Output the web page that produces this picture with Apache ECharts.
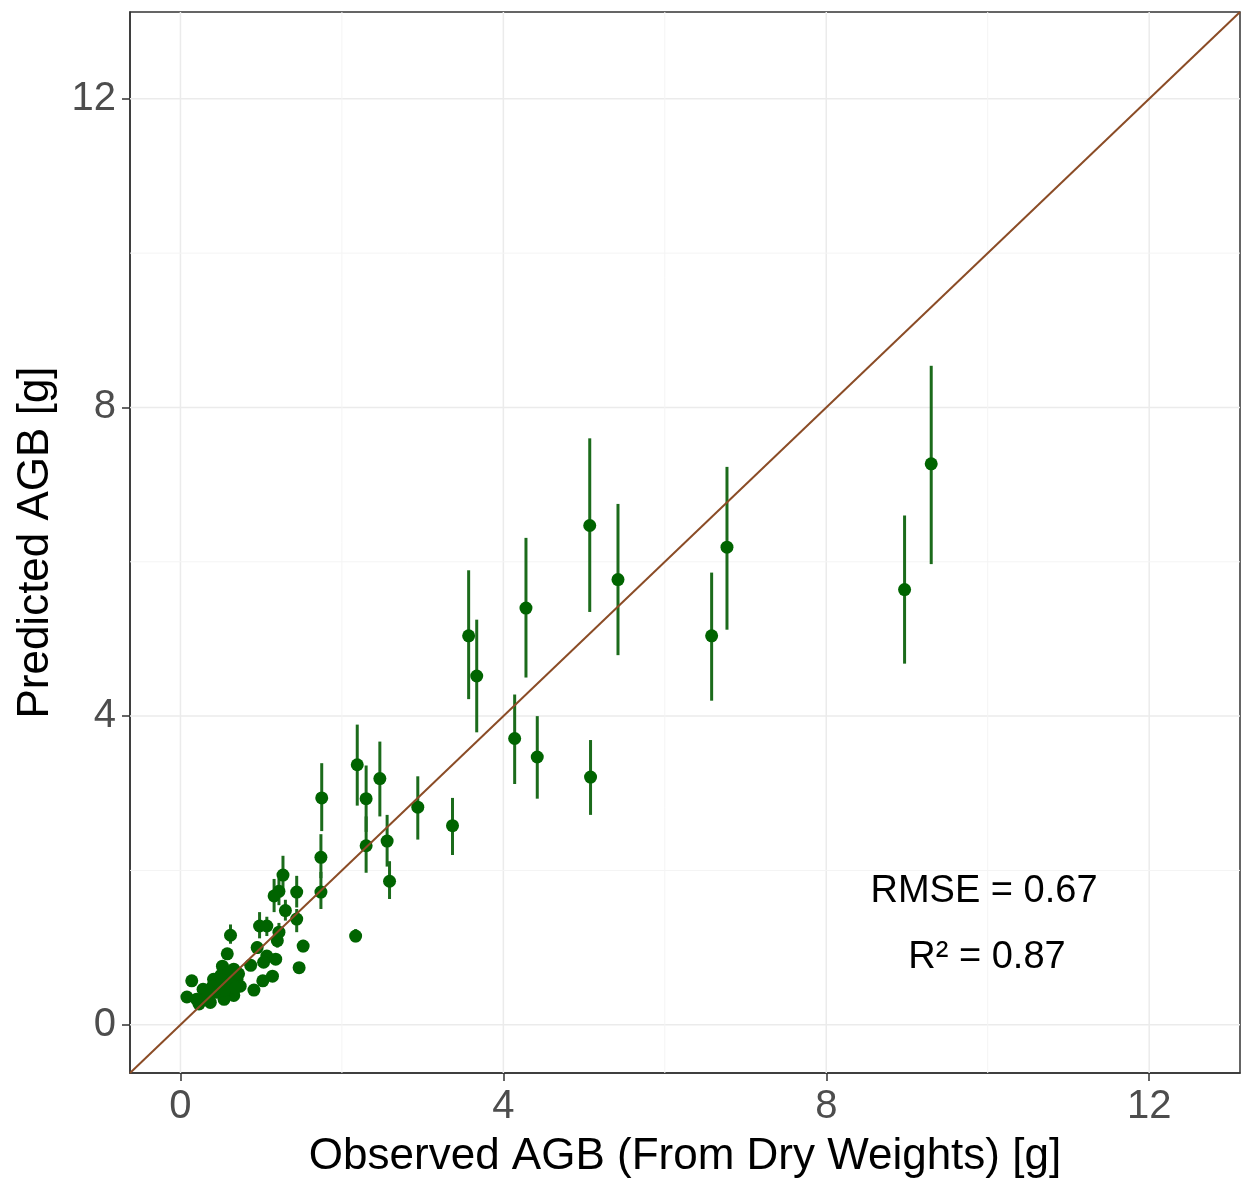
<!DOCTYPE html>
<html>
<head>
<meta charset="utf-8">
<script src="https://cdn.jsdelivr.net/npm/echarts@6/dist/echarts.min.js"></script>
<style>
  html, body { margin: 0; padding: 0; background: #fff; }
  #chart { width: 1244px; height: 1189px; }
</style>
</head>
<body>
<div id="chart"></div>
<script>
// observed (dry weight) vs predicted AGB, with predicted error bars
const observed = [9.30, 8.97, 6.77, 6.58, 5.42, 5.07, 5.08, 4.42, 4.28, 4.14, 3.67, 3.57, 3.37, 2.94,
  2.59, 2.56, 2.47, 2.30, 2.30, 2.19, 2.17, 1.75, 1.74, 1.74, 1.27, 1.44, 1.22, 1.16, 1.30, 1.44,
  0.98, 1.07, 1.22, 1.20, 0.62, 1.52, 1.47, 0.95, 1.07, 1.18, 1.03, 0.87, 1.14, 1.02, 0.91, 0.58,
  0.52, 0.66, 0.14, 0.08, 0.28, 0.41, 0.50, 0.70, 0.74, 0.66, 0.54, 0.37, 0.23, 0.45, 0.58, 0.33,
  0.62, 0.48, 0.55, 0.68, 0.30, 0.20, 0.40, 0.60, 0.72, 0.35, 0.52];
const predicted = [7.27, 5.64, 6.19, 5.04, 5.77, 6.47, 3.21, 3.47, 5.40, 3.71, 4.52, 5.04, 2.58, 2.82,
  1.86, 2.38, 3.19, 2.93, 2.32, 3.37, 1.15, 2.94, 2.17, 1.72, 1.94, 1.72, 1.73, 1.67, 1.48, 1.37,
  1.28, 1.28, 1.20, 1.09, 1.16, 1.02, 0.74, 1.00, 0.89, 0.85, 0.81, 0.77, 0.63, 0.57, 0.45, 0.92,
  0.76, 0.72, 0.57, 0.36, 0.46, 0.59, 0.64, 0.59, 0.50, 0.38, 0.33, 0.29, 0.27, 0.42, 0.50, 0.38,
  0.55, 0.52, 0.45, 0.48, 0.33, 0.33, 0.50, 0.68, 0.66, 0.44, 0.58];
const lower = [5.97, 4.68, 5.12, 4.20, 4.79, 5.35, 2.72, 2.93, 4.50, 3.12, 3.79, 4.22, 2.20, 2.40,
  1.63, 2.05, 2.70, 2.50, 1.97, 2.84, 1.07, 2.51, 1.90, 1.50, 1.75, 1.52, 1.55, 1.46, 1.35, 1.20,
  1.12, 1.15, 1.08, 1.00, 1.05, 0.94, 0.68, 0.92, 0.82, 0.79, 0.75, 0.71, 0.58, 0.52, 0.41, 0.85,
  0.70, 0.66, 0.52, 0.32, 0.42, 0.54, 0.58, 0.54, 0.45, 0.34, 0.29, 0.26, 0.24, 0.38, 0.45, 0.34,
  0.50, 0.47, 0.40, 0.43, 0.30, 0.30, 0.45, 0.62, 0.60, 0.40, 0.53];
const upper = [8.54, 6.60, 7.23, 5.86, 6.75, 7.60, 3.69, 4.00, 6.31, 4.28, 5.25, 5.89, 2.94, 3.22,
  2.12, 2.72, 3.67, 3.36, 2.70, 3.89, 1.24, 3.39, 2.47, 1.98, 2.19, 1.93, 1.90, 1.89, 1.62, 1.50,
  1.46, 1.40, 1.32, 1.20, 1.30, 1.10, 0.80, 1.08, 0.96, 0.91, 0.87, 0.83, 0.68, 0.62, 0.49, 0.99,
  0.82, 0.78, 0.62, 0.40, 0.50, 0.64, 0.70, 0.64, 0.55, 0.42, 0.37, 0.32, 0.30, 0.46, 0.55, 0.42,
  0.60, 0.57, 0.50, 0.53, 0.36, 0.36, 0.55, 0.74, 0.72, 0.48, 0.63];

const axisMin = -0.625;
const axisMax = 13.125;
const majorTicks = [0, 4, 8, 12];
const minorTicks = [2, 6, 10];
const rmseText = 'RMSE = 0.67';
const r2Text = 'R\u00b2 = 0.87';

const points = observed.map((x, i) => [x, predicted[i]]);
const bars = observed.map((x, i) => [x, lower[i], upper[i]]);
const oneToOne = [[axisMin, axisMin], [axisMax, axisMax]];

// grid line values: [value, isMajor]
const gridVals = majorTicks.map(v => [v, 1]).concat(minorTicks.map(v => [v, 0]));

const font = '"Liberation Sans", Arial, sans-serif';

let chart = echarts.init(document.getElementById('chart'));
chart.setOption({
  animation: false,
  backgroundColor: '#fff',
  textStyle: { fontFamily: font },
  grid: {
    left: 130, top: 12, right: 4, bottom: 116,
    show: true, borderColor: '#333', borderWidth: 1.5, backgroundColor: '#fff'
  },
  xAxis: {
    type: 'value', min: axisMin, max: axisMax,
    name: 'Observed AGB (From Dry Weights) [g]',
    nameLocation: 'middle', nameGap: 62,
    nameTextStyle: { fontSize: 44, color: '#000', fontFamily: font },
    axisLine: { show: true, onZero: false, lineStyle: { color: '#333', width: 1.5 } },
    axisTick: { show: true, customValues: majorTicks, length: 8, lineStyle: { color: '#333', width: 1.5 } },
    axisLabel: { customValues: majorTicks, fontSize: 40, color: '#4d4d4d', margin: 14, fontFamily: font },
    splitLine: { show: false }
  },
  yAxis: {
    type: 'value', min: axisMin, max: axisMax,
    name: 'Predicted AGB [g]',
    nameLocation: 'middle', nameGap: 72,
    nameTextStyle: { fontSize: 44, color: '#000', fontFamily: font },
    axisLine: { show: true, onZero: false, lineStyle: { color: '#333', width: 1.5 } },
    axisTick: { show: true, customValues: majorTicks, length: 8, lineStyle: { color: '#333', width: 1.5 } },
    axisLabel: { customValues: majorTicks, fontSize: 40, color: '#4d4d4d', margin: 14, fontFamily: font },
    splitLine: { show: false }
  },
  series: [
    {
      // panel grid lines (major + minor), drawn under everything
      type: 'custom', z: 1, silent: true, data: gridVals,
      renderItem: function (params, api) {
        const v = api.value(0);
        const major = api.value(1) === 1;
        const lo = api.coord([axisMin, axisMin]);
        const hi = api.coord([axisMax, axisMax]);
        const p = api.coord([v, v]);
        const style = { stroke: major ? '#ebebeb' : '#f4f4f4', lineWidth: major ? 1.5 : 1 };
        return {
          type: 'group',
          children: [
            { type: 'line', shape: { x1: p[0], y1: lo[1], x2: p[0], y2: hi[1] }, style: style },
            { type: 'line', shape: { x1: lo[0], y1: p[1], x2: hi[0], y2: p[1] }, style: style }
          ]
        };
      }
    },
    {
      type: 'custom', z: 2, data: bars,
      renderItem: function (params, api) {
        const p1 = api.coord([api.value(0), api.value(1)]);
        const p2 = api.coord([api.value(0), api.value(2)]);
        return {
          type: 'line',
          shape: { x1: p1[0], y1: p1[1], x2: p2[0], y2: p2[1] },
          style: { stroke: '#1b6b1b', lineWidth: 3 }
        };
      }
    },
    {
      type: 'scatter', z: 3, data: points,
      symbol: 'circle', symbolSize: 13,
      itemStyle: { color: '#006400', opacity: 1 }
    },
    {
      type: 'line', z: 4, data: oneToOne, symbol: 'none',
      lineStyle: { color: '#8b4c26', width: 2 }
    }
  ],
  graphic: [
    {
      type: 'text', z: 10,
      x: 984, y: 892,
      style: { text: rmseText, font: '38px ' + font, fill: '#000', textAlign: 'center', textVerticalAlign: 'middle' }
    },
    {
      type: 'text', z: 10,
      x: 987, y: 958,
      style: { text: r2Text, font: '38px ' + font, fill: '#000', textAlign: 'center', textVerticalAlign: 'middle' }
    }
  ]
});
</script>
</body>
</html>
